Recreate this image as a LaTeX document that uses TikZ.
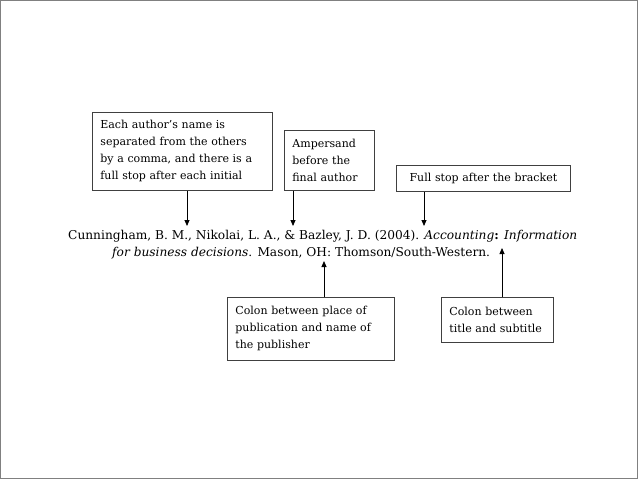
\documentclass[tikz,border=0pt]{standalone}
\usepackage{fontspec}
\setmainfont{DejaVu Serif}
\usetikzlibrary{arrows.meta}
\begin{document}
\begin{tikzpicture}[x=1pt,y=-1pt,
  note/.style={draw=black!75,line width=0.8pt,fill=white,inner xsep=8pt,inner ysep=4pt,align=left,font=\fontsize{11}{17}\selectfont,anchor=north west},
  pointer/.style={line width=0.8pt,-{Triangle[length=6pt,width=5pt]}},
  cite/.style={font=\fontsize{12.2}{15}\selectfont,anchor=west,inner sep=0pt}]
\draw[black!50,line width=1pt,fill=white] (0.5,0.5) rectangle (637.5,478.5);
\useasboundingbox (0,0) rectangle (638,479);
\node[note,text width=164pt,minimum height=78pt] (b1) at (92,112) {Each author's name is\\separated from the others\\by a comma, and there is a\\full stop after each initial};
\node[note,text width=74pt,minimum height=60pt] (b2) at (284,130) {Ampersand\\before the\\final author};
\node[note,text width=158pt,minimum height=26pt,align=center] (b3) at (396,165) {Full stop after the bracket};
\node[note,text width=151pt,minimum height=63pt] (b4) at (227,297) {Colon between place of\\publication and name of\\the publisher};
\node[note,text width=96pt,minimum height=45pt] (b5) at (441,297) {Colon between\\title and subtitle};
\node[cite] (c1) at (68,236) {Cunningham, B. M., Nikolai, L. A., \& Bazley, J. D. (2004). \textit{Accounting}\textbf{:} \textit{Information}};
\node[cite] (c2) at (112,253) {\textit{for business decisions}. Mason, OH: Thomson/South-Western.};
\coordinate (t1) at (187,226);
\coordinate (t2) at (293,226);
\coordinate (t3) at (424,226);
\coordinate (t4) at (324,261);
\coordinate (t5) at (502,248);
\draw[pointer] (b1.south -| t1) -- (t1);
\draw[pointer] (b2.south -| t2) -- (t2);
\draw[pointer] (b3.south -| t3) -- (t3);
\draw[pointer] (b4.north -| t4) -- (t4);
\draw[pointer] (b5.north -| t5) -- (t5);
\end{tikzpicture}
\end{document}
